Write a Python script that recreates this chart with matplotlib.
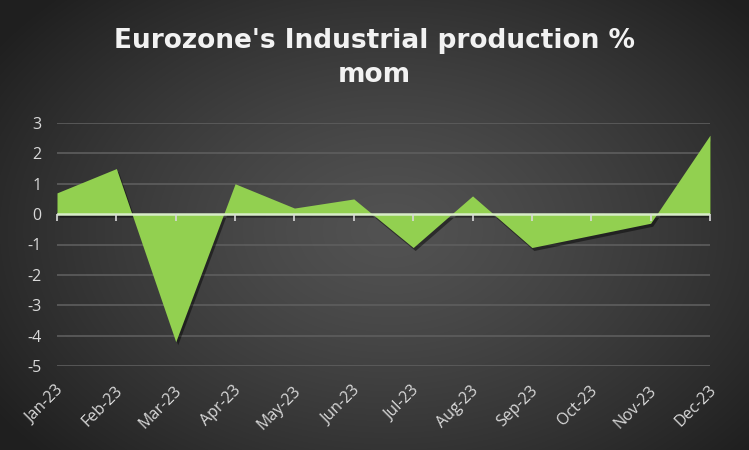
import numpy as np
import matplotlib
matplotlib.use("Agg")
import matplotlib.pyplot as plt
import matplotlib.transforms as mtransforms

months = ["Jan-23", "Feb-23", "Mar-23", "Apr-23", "May-23", "Jun-23",
          "Jul-23", "Aug-23", "Sep-23", "Oct-23", "Nov-23", "Dec-23"]
values = [0.7, 1.5, -4.2, 1.0, 0.2, 0.5, -1.1, 0.6, -1.1, -0.7, -0.3, 2.6]
yticks = [3, 2, 1, 0, -1, -2, -3, -4, -5]
title = "Eurozone's Industrial production %\nmom"

W, H = 749, 450
fig = plt.figure(figsize=(W / 100, H / 100), dpi=100)

# radial gradient background
bg = fig.add_axes([0, 0, 1, 1], zorder=-10)
yy, xx = np.mgrid[0:H, 0:W]
cx, cy = 390, 230
r = np.sqrt(((xx - cx) / 480.0) ** 2 + ((yy - cy) / 330.0) ** 2)
r = np.clip(r, 0, 1)
c0, c1 = 0x52, 0x1f
g = (c0 + (c1 - c0) * r ** 1.3) / 255.0
img = np.dstack([g, g, g])
bg.imshow(img, aspect="auto", extent=[0, 1, 0, 1], origin="upper")
bg.axis("off")

ax = fig.add_axes([57 / W, 1 - 366 / H, (710 - 57) / W, (366 - 123) / H])
ax.set_facecolor("none")
x = np.arange(len(months))

# shadow
shadow = mtransforms.offset_copy(ax.transData, fig=fig, x=2, y=-3, units="dots")
ax.fill_between(x, 0, values, color="black", alpha=0.45, lw=0, transform=shadow, zorder=2)
ax.fill_between(x, 0, values, color="#92D050", lw=0, zorder=3)

ax.set_xlim(0, len(months) - 1)
ax.set_ylim(-5, 3)
ax.spines[:].set_visible(False)
for t in yticks:
    if t != 0:
        ax.axhline(t, color="#5e5e5e", lw=1.2, zorder=1)
ax.axhline(0, color="#d8ecc8", lw=1.8, zorder=4)
# tick marks on the zero line
ax.plot(x, np.zeros(len(x)), ls="none", marker=3, ms=5, mew=1.2,
        color="#d9d9d9", zorder=4, clip_on=False)

ax.set_yticks(yticks)
ax.set_yticklabels([str(t) for t in yticks], fontfamily="Open Sans", fontsize=11.5)
ax.set_xticks(x)
ax.set_xticklabels(months, rotation=45, ha="right", va="center",
                   rotation_mode="anchor", fontfamily="Open Sans", fontsize=11.5)
ax.tick_params(axis="x", colors="#d9d9d9", length=0, pad=16)
ax.tick_params(axis="y", colors="#d9d9d9", length=0, pad=11)
shift = mtransforms.ScaledTranslation(4 / 100, 0, fig.dpi_scale_trans)
for lbl in ax.get_xticklabels():
    lbl.set_transform(lbl.get_transform() + shift)

fig.text(0.5, 1 - 58 / H, title, ha="center", va="center", color="#f2f2f2",
         fontsize=19, fontweight="bold", fontfamily="DejaVu Sans", linespacing=1.45)

fig.savefig("out.png", dpi=100)
